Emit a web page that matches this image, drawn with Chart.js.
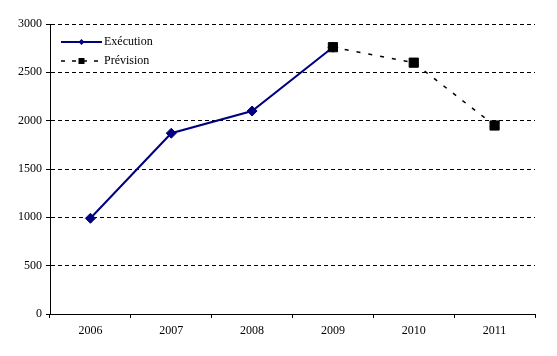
<!DOCTYPE html>
<html><head><meta charset="utf-8">
<script src="https://cdn.jsdelivr.net/npm/chart.js@4"></script>
<style>html,body{margin:0;padding:0;background:#fff}#wrap{width:557px;height:356px}</style>
</head><body><div id="wrap"><canvas id="c" width="557" height="356"></canvas></div>
<script>
const categories = ['2006','2007','2008','2009','2010','2011'];
const execution = [990, 1870, 2100, 2760, null, null];
const prevision = [null, null, null, 2760, 2600, 1950];
const seriesNames = ['Exécution', 'Prévision'];
const yTicks = [0, 500, 1000, 1500, 2000, 2500, 3000];

const FONT = '"Liberation Serif", "Times New Roman", serif';

const legendPlugin = {
  id: 'innerLegend',
  afterDraw(chart) {
    const ctx = chart.ctx;
    const x0 = 61, x1 = 102;
    const rows = [42, 61];
    ctx.save();
    chart.data.datasets.forEach((ds, i) => {
      const y = rows[i];
      ctx.strokeStyle = ds.borderColor;
      ctx.lineWidth = ds.borderWidth;
      ctx.setLineDash(ds.borderDash ? [4, 7] : []);
      ctx.beginPath(); ctx.moveTo(x0, y); ctx.lineTo(x1, y); ctx.stroke();
      ctx.setLineDash([]);
      ctx.fillStyle = ds.pointBackgroundColor;
      const cx = (x0 + x1) / 2;
      if (ds.pointStyle === 'rect') {
        ctx.fillRect(cx - 3, y - 3, 6, 6);
      } else {
        ctx.beginPath(); ctx.moveTo(cx, y - 3); ctx.lineTo(cx + 3, y); ctx.lineTo(cx, y + 3); ctx.lineTo(cx - 3, y); ctx.closePath(); ctx.fill();
      }
      ctx.fillStyle = '#000';
      ctx.font = '12px ' + FONT;
      ctx.textBaseline = 'middle';
      ctx.fillText(ds.label, x1 + 2, y);
    });
    ctx.restore();
  }
};

new Chart(document.getElementById('c'), {
  type: 'line',
  data: {
    labels: categories,
    datasets: [
      { label: seriesNames[0], data: execution, borderColor: '#000080', backgroundColor: '#000080',
        pointBackgroundColor: '#000080', pointBorderColor: '#000080', borderWidth: 2, pointBorderWidth: 1,
        pointStyle: 'rectRot', pointRadius: 5, tension: 0, order: 2 },
      { label: seriesNames[1], data: prevision, borderColor: '#000000', backgroundColor: '#000000',
        pointBackgroundColor: '#000000', pointBorderColor: '#000000', borderWidth: 1.5, borderDash: [4, 8],
        pointBorderWidth: 1, pointStyle: 'rect', pointRadius: 6.5, tension: 0, order: 1 }
    ]
  },
  options: {
    responsive: false, animation: false, devicePixelRatio: 1,
    layout: { padding: { top: 24, right: 22, left: 0, bottom: 0 } },
    plugins: { legend: { display: false }, tooltip: { enabled: false } },
    scales: {
      x: {
        offset: true,
        grid: { display: true, drawOnChartArea: false, drawTicks: true, tickLength: 4, color: '#000', offset: true },
        border: { display: true, color: '#000', width: 1 },
        ticks: { color: '#000', font: { family: FONT, size: 12 }, padding: 6, maxRotation: 0 },
        afterFit(s) { s.height = 42; }
      },
      y: {
        min: 0, max: 3000,
        afterBuildTicks(s) { s.ticks = yTicks.map(v => ({ value: v })); },
        grid: { color: '#000', lineWidth: 1, drawTicks: true, tickLength: 4, tickBorderDash: [] },
        border: { display: true, color: '#000', width: 1, dash: [4, 3] },
        ticks: { color: '#000', font: { family: FONT, size: 12 }, padding: 4, callback: v => String(v) },
        afterFit(s) { s.width = 50; }
      }
    }
  },
  plugins: [legendPlugin]
});
</script></body></html>
